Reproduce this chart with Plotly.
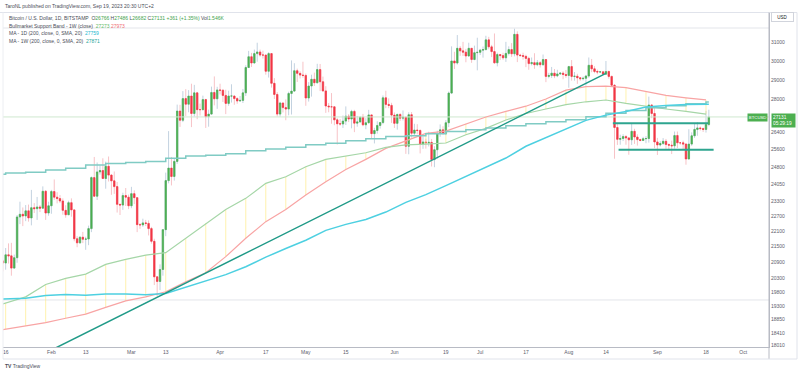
import numpy as np
import pandas as pd
import plotly.graph_objects as go

# ---------------- data (BTC/USD daily, Bitstamp) ----------------
first_open = 19930  # open of 14 Jan (close of 13 Jan)

close_jan = [20950, 20870, 21180, 21140, 20680, 21070, 22670, 22780, 22710, 22920, 22630, 23050, 23010, 23080, 23030, 23740, 22830, 23130]
high_jan = [21260, 21000, 21440, 21620, 21640, 21190, 22750, 23300, 23060, 23160, 23180, 23800, 23240, 23500, 23160, 23950, 23790, 23300]
low_jan = [19890, 20560, 20620, 20850, 20400, 20660, 20880, 22380, 22300, 22500, 22480, 22330, 22830, 22550, 22870, 23000, 22550, 22720]

close_feb = [23730, 23490, 23430, 23330, 22940, 22760, 23260, 22960, 21800, 21640, 21860, 21780, 21790, 22200, 24330, 23530, 24580, 24640, 24290, 24830, 24440, 24190, 23940, 23190, 23160, 23560, 23490, 23130]
high_feb = [23800, 24250, 23700, 23580, 23440, 23150, 23340, 23440, 22990, 21900, 21900, 22070, 21880, 22320, 24380, 25250, 25000, 24870, 25190, 25040, 25270, 24480, 24600, 24140, 23210, 23680, 23880, 23600]
low_feb = [22800, 23380, 23230, 23250, 22760, 22640, 22750, 22680, 21700, 21470, 21600, 21630, 21370, 21550, 22060, 23530, 23370, 24460, 24270, 23850, 24160, 23590, 23630, 22850, 22750, 22960, 23120, 22990]

close_mar = [23640, 23470, 22360, 22350, 22430, 22410, 22200, 21700, 20360, 20190, 20630, 22160, 24200, 24750, 24380, 25050, 27420, 26970, 28040, 27760, 28170, 27300, 28330, 27490, 27490, 27990, 27140, 27270, 28350, 28030, 28480]
high_mar = [23930, 23780, 23480, 22420, 22600, 22550, 22530, 22270, 21800, 20370, 20820, 22180, 24550, 26450, 25250, 25200, 27740, 27730, 28420, 28520, 28470, 28800, 28740, 28380, 27790, 28190, 28030, 27490, 28650, 29180, 28640]
low_mar = [23030, 23200, 22060, 22190, 22270, 22300, 21930, 21610, 20060, 19650, 19880, 20400, 21900, 24080, 23990, 24200, 24940, 26650, 26880, 27180, 27360, 26640, 27150, 27020, 27200, 27450, 26600, 26660, 27250, 27700, 27530]

close_apr = [28460, 28200, 27800, 28170, 28170, 28040, 27920, 27950, 28330, 29650, 30230, 29890, 30400, 30490, 30320, 30320, 29450, 30400, 28820, 28250, 27270, 27820, 27590, 27520, 28300, 28420, 29480, 29340, 29250, 29230]
high_apr = [28800, 28530, 28490, 28440, 28770, 28190, 28110, 28170, 28530, 29770, 30550, 30440, 30620, 31000, 30620, 30560, 30330, 30480, 30410, 29090, 28370, 27880, 27820, 28000, 28390, 30030, 29880, 29590, 29450, 29960]
low_apr = [28250, 27870, 27270, 27680, 27840, 27730, 27780, 27880, 27820, 28170, 29620, 29680, 29880, 29960, 30230, 30130, 29270, 29120, 28600, 28020, 27150, 27140, 27350, 26970, 27210, 27250, 28380, 28890, 29070, 29110]

close_may = [28070, 28680, 29030, 28850, 29540, 28900, 28430, 27670, 27630, 27630, 26990, 26800, 26790, 26930, 27170, 27030, 27400, 26830, 26890, 27120, 26750, 26850, 27230, 26330, 26480, 26720, 26860, 28080, 27750, 27700, 27220]
high_may = [29330, 28880, 29270, 29380, 29850, 29840, 29170, 28670, 27820, 28320, 27640, 27070, 27030, 27200, 27650, 27270, 27480, 27480, 27180, 27150, 27280, 27070, 27480, 27240, 26610, 26920, 26890, 28200, 28440, 28050, 27830]
low_may = [27680, 27890, 28140, 28680, 28810, 28420, 28390, 27330, 27360, 26800, 26730, 25820, 26710, 26600, 26740, 26880, 26580, 26400, 26660, 26850, 26680, 26540, 26810, 26080, 25870, 26330, 26570, 26780, 27560, 27560, 26840]

close_jun = [26820, 27250, 27070, 27120, 25740, 27240, 26350, 26500, 26480, 25850, 25940, 25900, 25920, 25130, 25580, 26340, 26510, 26340, 26850, 28320, 30000, 29890, 30690, 30550, 30480, 30270, 30690, 30080, 30450, 30470]
high_jun = [27350, 27300, 27320, 27450, 27130, 27360, 27370, 26800, 26780, 26530, 26200, 26090, 26420, 26080, 25740, 26470, 26770, 26680, 26980, 28400, 30800, 30500, 31430, 30810, 31050, 30660, 31000, 30700, 30840, 31280]
low_jun = [26600, 26520, 26940, 26960, 25390, 25370, 26140, 26250, 26300, 25410, 25620, 25630, 25730, 24820, 24790, 25170, 26180, 26280, 26260, 26640, 28270, 29570, 29810, 30280, 30270, 29930, 30230, 29900, 30040, 29500]

close_jul = [30590, 30620, 31160, 30770, 30510, 29900, 30350, 30290, 30170, 30410, 30620, 30390, 31470, 30320, 30290, 30250, 30140, 29860, 29910, 29800, 29910, 29800, 30080, 29180, 29230, 29350, 29210, 29310, 29350, 29280, 29230]
high_jul = [30660, 30790, 31390, 31330, 30880, 31520, 30450, 30380, 30450, 31050, 30800, 30980, 31800, 31640, 30390, 30450, 30340, 30230, 30190, 30420, 30050, 29990, 30350, 30100, 29370, 29680, 29570, 29530, 29410, 29450, 29520]
low_jul = [30320, 30180, 30580, 30640, 30210, 29850, 29710, 30050, 30060, 29950, 30300, 30220, 30250, 29940, 30250, 30070, 29670, 29530, 29760, 29580, 29720, 29650, 29740, 28880, 29080, 29100, 29090, 29140, 29260, 29030, 29110]

close_aug = [29700, 29180, 29190, 29110, 29060, 29080, 29200, 29770, 29580, 29440, 29410, 29420, 29300, 29440, 29180, 28720, 26620, 26060, 26100, 26190, 26130, 26040, 26440, 26170, 26050, 26010, 26090, 26100, 27720, 27300, 25940]
high_aug = [29740, 30050, 29410, 29320, 29120, 29170, 29260, 30190, 30110, 29720, 29540, 29470, 29450, 30000, 29480, 29220, 28780, 26820, 26280, 26300, 26260, 26140, 26800, 26560, 26300, 26090, 26180, 26210, 28140, 27760, 27570]
low_aug = [28590, 28960, 28960, 28790, 28950, 28970, 28700, 29110, 29400, 29350, 29290, 29360, 29270, 29270, 29060, 28720, 25170, 25800, 25810, 25980, 25810, 25350, 25800, 25850, 25770, 25970, 25980, 25880, 25910, 27070, 25650]

close_sep = [25800, 25870, 25970, 25820, 25790, 25760, 26240, 25900, 25900, 25840, 25160, 25840, 26230, 26530, 26600, 26570, 26530, 26766, 27131]
high_sep = [26130, 25980, 26120, 26080, 25870, 26000, 26430, 26430, 25940, 26000, 25880, 26540, 26390, 26820, 26880, 26670, 26620, 27430, 27486]
low_sep = [25340, 25730, 25800, 25620, 25570, 25380, 25630, 25660, 25810, 25590, 24900, 25130, 25760, 26130, 26230, 26480, 26410, 26380, 26682]

closes = close_jan + close_feb + close_mar + close_apr + close_may + close_jun + close_jul + close_aug + close_sep
highs = high_jan + high_feb + high_mar + high_apr + high_may + high_jun + high_jul + high_aug + high_sep
lows = low_jan + low_feb + low_mar + low_apr + low_may + low_jun + low_jul + low_aug + low_sep
dates = pd.date_range("2023-01-14", "2023-09-19", freq="D")
opens = [first_open] + closes[:-1]

# weekly indicator values (one per week start, 9 Jan .. 18 Sep)
week_starts = pd.date_range("2023-01-09", "2023-09-18", freq="7D")
band_ema21w = [19200, 19430, 19640, 20080, 20300, 20460, 20820, 21010, 21170, 21260, 21820, 22420, 22980,
               23440, 24080, 24370, 24810, 25140, 25290, 25440, 25690, 25800, 25840, 25890, 26280, 26580,
               26980, 27300, 27520, 27740, 27880, 27970, 27800, 27650, 27520, 27400, 27273]
band_sma20w = [18420, 18530, 18640, 18750, 18900, 19040, 19270, 19500, 19640, 19820, 20180, 20510, 21110,
               21820, 22480, 22980, 23580, 24150, 24690, 25140, 25640, 26000, 26340, 26450, 26800, 27130,
               27400, 27660, 28020, 28470, 28650, 28680, 28600, 28400, 28200, 28080, 27973]
ma200w = [24480, 24530, 24570, 24660, 24740, 24890, 24960, 25000, 25050, 25190, 25290, 25330, 25400,
          25530, 25610, 25690, 25810, 25880, 26000, 26090, 26200, 26230, 26330, 26430, 26520, 26600,
          26700, 26800, 26900, 27000, 27140, 27310, 27450, 27580, 27680, 27780, 27871]
ma200d = [19540, 19560, 19590, 19690, 19720, 19700, 19740, 19740, 19710, 19760, 19990, 20230, 20440,
          20730, 21090, 21420, 21740, 22130, 22370, 22570, 22870, 23270, 23600, 23980, 24370, 24800,
          25200, 25740, 26150, 26570, 26965, 27220, 27400, 27620, 27700, 27740, 27750]
ma200d_last = 27759

# drawings
trend_dates = ["2023-02-01", "2023-08-14"]
trend_prices = [17850, 29340]
range_top_dates = ["2023-08-16 10:00", "2023-09-18 20:00"]
range_top_price = 26820
range_bot_dates = ["2023-08-18 10:00", "2023-09-20 16:00"]
range_bot_price = 25580
gray_levels = [19530, 31830]

# axes
y_ticks = [18010, 18410, 18850, 19300, 19800, 20300, 20900, 21500, 22100, 22700, 23300, 24050, 24800,
           25600, 26400, 28000, 29000, 30000, 31000]
x_tick_dates = ["2023-01-16", "2023-02-01", "2023-02-13", "2023-03-01", "2023-03-13", "2023-04-01",
                "2023-04-17", "2023-05-01", "2023-05-15", "2023-06-01", "2023-06-19", "2023-07-01",
                "2023-07-17", "2023-08-01", "2023-08-14", "2023-09-01", "2023-09-18", "2023-10-01"]
x_tick_text = ["16", "Feb", "13", "Mar", "13", "Apr", "17", "May", "15", "Jun", "19", "Jul", "17",
               "Aug", "14", "Sep", "18", "Oct"]
x_range = ["2023-01-15 01:40", "2023-10-10 01:00"]
y_range = [17948, 32700]

# ---------------- styling ----------------
UP, DN = "#4caf50", "#f23645"
UP_W, DN_W = "#c3d2e0", "#f7c3c7"
C_EMA, C_SMA = "#a5d6a7", "#f8a4a4"
C_200D, C_200W = "#4dd0e1", "#80cbc4"
C_TREND = "#1f9a87"
C_RANGE = "#2ea58f"
FONT = "Liberation Sans, Arial, sans-serif"

W, H = 800, 375
L, R, T, B = 3, 31, 13, 28
PW, PH = W - L - R, H - T - B


def px_x(px):
    return (px - L) / PW


def px_y(py):
    return (H - B - py) / PH


fig = go.Figure()

# reference levels
for lvl in gray_levels:
    fig.add_trace(go.Scatter(x=x_range, y=[lvl, lvl], mode="lines",
                             line=dict(color="#e3e5ea", width=1), hoverinfo="skip"))
fig.add_trace(go.Scatter(x=x_range, y=[closes[-1], closes[-1]], mode="lines",
                         line=dict(color="#cfe8cf", width=1), hoverinfo="skip"))

# candles: wicks (pale) + bodies (solid)
fig.add_trace(go.Candlestick(
    x=dates, open=opens, high=highs, low=lows, close=closes, whiskerwidth=0,
    increasing=dict(line=dict(color=UP_W, width=1), fillcolor=UP_W),
    decreasing=dict(line=dict(color=DN_W, width=1), fillcolor=DN_W),
    hoverinfo="skip"))
body_hi = [max(o, c) for o, c in zip(opens, closes)]
body_lo = [min(o, c) for o, c in zip(opens, closes)]
fig.add_trace(go.Candlestick(
    x=dates, open=opens, high=body_hi, low=body_lo, close=closes, whiskerwidth=0,
    increasing=dict(line=dict(color=UP, width=0.6), fillcolor=UP),
    decreasing=dict(line=dict(color=DN, width=0.6), fillcolor=DN),
    hoverinfo="skip"))

# bull market support band fill (weekly vertical strokes)
xv, yv = [], []
for d, a, b in zip(week_starts, band_ema21w, band_sma20w):
    xv += [d, d, None]
    yv += [a, b, None]
fig.add_trace(go.Scatter(x=xv, y=yv, mode="lines", line=dict(color="rgba(255,232,120,0.6)", width=1),
                         hoverinfo="skip"))
fig.add_trace(go.Scatter(x=week_starts, y=band_sma20w, mode="lines", line=dict(color=C_SMA, width=1.2),
                         hoverinfo="skip"))
fig.add_trace(go.Scatter(x=week_starts, y=band_ema21w, mode="lines", line=dict(color=C_EMA, width=1.2),
                         hoverinfo="skip"))

# 200W SMA (stepped) and 200D SMA
fig.add_trace(go.Scatter(x=list(week_starts) + [dates[-1]], y=ma200w + [ma200w[-1]], mode="lines",
                         line=dict(color=C_200W, width=1.5, shape="hv"), hoverinfo="skip"))
fig.add_trace(go.Scatter(x=list(week_starts) + [dates[-1]], y=ma200d + [ma200d_last], mode="lines",
                         line=dict(color=C_200D, width=1.5), hoverinfo="skip"))

# drawings
fig.add_trace(go.Scatter(x=trend_dates, y=trend_prices, mode="lines",
                         line=dict(color=C_TREND, width=1.5), hoverinfo="skip"))
fig.add_trace(go.Scatter(x=range_top_dates, y=[range_top_price] * 2, mode="lines",
                         line=dict(color=C_RANGE, width=2), hoverinfo="skip"))
fig.add_trace(go.Scatter(x=range_bot_dates, y=[range_bot_price] * 2, mode="lines",
                         line=dict(color=C_RANGE, width=2), hoverinfo="skip"))

# ---------------- text ----------------
def col(v, c):
    return f'<span style="color:{c}">{v}</span>'


GT = "#3fa34d"
sp = "\u00a0\u00a0"
leg1 = (f"Bitcoin / U.S. Dollar, 1D, BITSTAMP{sp}O{col(opens[-1], GT)} H{col(highs[-1], GT)} "
        f"L{col(lows[-1], GT)} C{col(closes[-1], GT)} {col('+361 (+1.35%)', GT)} Vol{col('1.546K', GT)}")
leg2 = f"Bullmarket Support Band - 1W (close){sp}{col(band_ema21w[-1], '#66bb6a')} {col(band_sma20w[-1], '#f06e74')}"
leg3 = f"MA - 1D (200, close, 0, SMA, 20){sp}{col(ma200d_last, '#22b8cf')}"
leg4 = f"MA - 1W (200, close, 0, SMA, 20){sp}{col(ma200w[-1], '#26a69a')}"

annotations = [
    dict(text="TaroNL published on TradingView.com, Sep 19, 2023 20:30 UTC+2", x=px_x(3), y=px_y(5.7)),
    dict(text=leg1, x=px_x(7), y=px_y(18.3)),
    dict(text=leg2, x=px_x(7), y=px_y(25.8)),
    dict(text=leg3, x=px_x(7), y=px_y(33.3)),
    dict(text=leg4, x=px_x(7), y=px_y(40.8)),
    dict(text="<b>TV</b> TradingView", x=px_x(3), y=px_y(365.5)),
]
ann = []
for a in annotations:
    a.update(xref="paper", yref="paper", xanchor="left", yanchor="middle", showarrow=False,
             font=dict(family=FONT, size=5, color="#4a4d57"))
    ann.append(a)

ann.append(dict(text="USD", xref="paper", yref="paper", x=px_x(782.5), y=px_y(17.5), showarrow=False,
                xanchor="center", yanchor="middle", width=19, height=6, bordercolor="#d1d4dc",
                borderwidth=1, borderpad=1, bgcolor="white", font=dict(family=FONT, size=4.5, color="#131722")))
ann.append(dict(text=f"{closes[-1]}<br>05:29:19", xref="paper", yref="y", x=px_x(771), y=np.log10(closes[-1]),
                showarrow=False, xanchor="left", yanchor="top", yshift=3.5, bgcolor=UP, borderpad=1,
                width=21, align="left", font=dict(family=FONT, size=4.8, color="white")))
ann.append(dict(text="BTCUSD", xref="paper", yref="y", x=px_x(767.5), y=np.log10(closes[-1]),
                showarrow=False, xanchor="right", yanchor="middle", yshift=-1, bgcolor=UP, borderpad=0.8,
                font=dict(family=FONT, size=4.3, color="white")))

line_c = "#b8bbc4"
shapes = [
    dict(type="line", xref="paper", yref="paper", x0=px_x(0), x1=px_x(797), y0=px_y(12.5), y1=px_y(12.5),
         line=dict(color="#e0e3eb", width=1)),
    dict(type="line", xref="paper", yref="paper", x0=px_x(3), x1=px_x(3), y0=px_y(12.5), y1=px_y(359),
         line=dict(color="#eceef2", width=1)),
    dict(type="line", xref="paper", yref="paper", x0=px_x(769), x1=px_x(769), y0=px_y(12.5), y1=px_y(359),
         line=dict(color=line_c, width=1)),
    dict(type="line", xref="paper", yref="paper", x0=px_x(3), x1=px_x(797), y0=px_y(359), y1=px_y(359),
         line=dict(color="#e0e3eb", width=1)),
    dict(type="line", xref="paper", yref="paper", x0=px_x(797), x1=px_x(797), y0=px_y(12.5), y1=px_y(359),
         line=dict(color="#e0e3eb", width=1)),
]

fig.update_layout(
    width=W, height=H, margin=dict(l=L, r=R, t=T, b=B),
    paper_bgcolor="white", plot_bgcolor="white", showlegend=False,
    font=dict(family=FONT, size=5, color="#5d606b"),
    annotations=ann, shapes=shapes, hovermode=False,
    xaxis=dict(type="date", range=x_range, showgrid=False, zeroline=False, rangeslider=dict(visible=False),
               tickmode="array", tickvals=x_tick_dates, ticktext=x_tick_text, ticks="",
               tickfont=dict(family=FONT, size=5, color="#5d606b"),
               showline=True, linecolor=line_c, linewidth=1, fixedrange=True),
    yaxis=dict(type="log", range=[np.log10(y_range[0]), np.log10(y_range[1])], side="right",
               showgrid=False, zeroline=False, tickmode="array", tickvals=y_ticks,
               ticktext=[str(v) for v in y_ticks], ticks="",
               tickfont=dict(family=FONT, size=5, color="#5d606b"),
               showline=True, linecolor=line_c, linewidth=1, fixedrange=True),
)

fig.write_html("out.html", config={"displayModeBar": False, "staticPlot": True},
               post_script="document.body.style.margin='0px';document.body.style.overflow='hidden';")
